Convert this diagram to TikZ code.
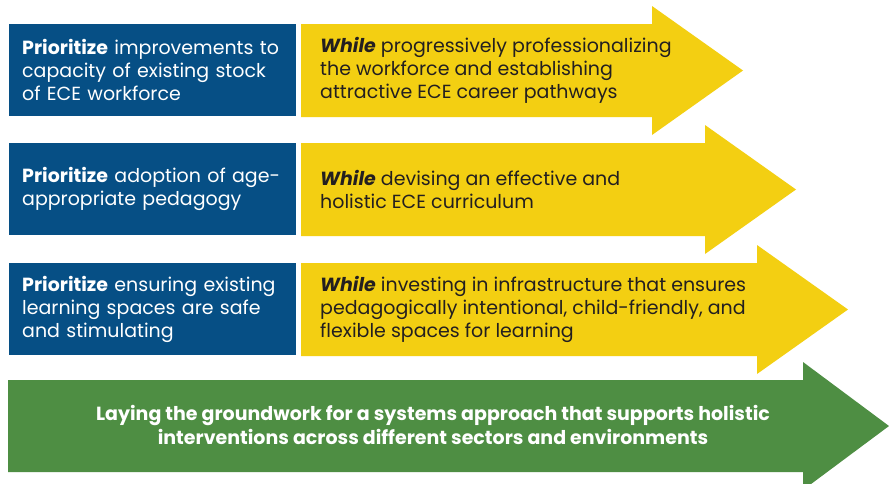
\documentclass[tikz,border=0pt]{standalone}
\usepackage{fontspec}
\setmainfont{Poppins}
\usetikzlibrary{positioning}
\definecolor{eceblue}{HTML}{064F85}
\definecolor{ecegold}{HTML}{F3CF12}
\definecolor{ecegreen}{HTML}{4E8E43}
\definecolor{ecetext}{HTML}{231F20}
\tikzset{
  prio/.style={fill=eceblue, text=white, anchor=north west, inner sep=0pt, inner xsep=13pt,
    text width=261pt, minimum height=92pt, align=left, font=\fontsize{19}{23}\selectfont},
  whiletext/.style={anchor=west, text=ecetext, inner sep=0pt, align=left, font=\fontsize{19}{23}\selectfont},
  basetext/.style={text=white, inner sep=0pt, align=center, font=\fontsize{19}{24}\selectfont\bfseries}
}

\begin{document}
\begin{tikzpicture}[x=1pt,y=-1pt]
  \useasboundingbox[fill=white] (0,0) rectangle (889,483);

  % Draw the three yellow arrows
  \fill[ecegold] (301,24) -- (652,24) -- (652,6) -- (743,70.5) -- (652,135) -- (652,117) -- (301,117) -- cycle;
  \fill[ecegold] (301,143) -- (705,143) -- (705,125) -- (796,189.5) -- (705,254) -- (705,236) -- (301,236) -- cycle;
  \fill[ecegold] (301,263) -- (757,263) -- (757,245) -- (848,309.5) -- (757,374) -- (757,356) -- (301,356) -- cycle;

  % Draw the green arrow along the bottom
  \fill[ecegreen] (8,380) -- (803,380) -- (803,362) -- (889,426) -- (803,490) -- (803,472) -- (8,472) -- cycle;

  % Priorities
  \node[prio] (prio1) at (9,24) {\textbf{Prioritize} improvements to\\capacity of existing stock\\of ECE workforce};
  \node[prio] (prio2) at (9,143) {\textbf{Prioritize} adoption of age-\\appropriate pedagogy};
  \node[prio] (prio3) at (9,263) {\textbf{Prioritize} ensuring existing\\learning spaces are safe\\and stimulating};

  % Longer-term work
  \node[whiletext] (while1) at (320,70.5) {\textbf{\textit{While}} progressively professionalizing\\the workforce and establishing\\attractive ECE career pathways};
  \node[whiletext] (while2) at (320,189.5) {\textbf{\textit{While}} devising an effective and\\holistic ECE curriculum};
  \node[whiletext] (while3) at (320,309.5) {\textbf{\textit{While}} investing in infrastructure that ensures\\pedagogically intentional, child-friendly, and\\flexible spaces for learning};

  % Groundwork
  \node[basetext] (base) at (433,425) {Laying the groundwork for a systems approach that supports holistic\\interventions across different sectors and environments};
\end{tikzpicture}
\end{document}
